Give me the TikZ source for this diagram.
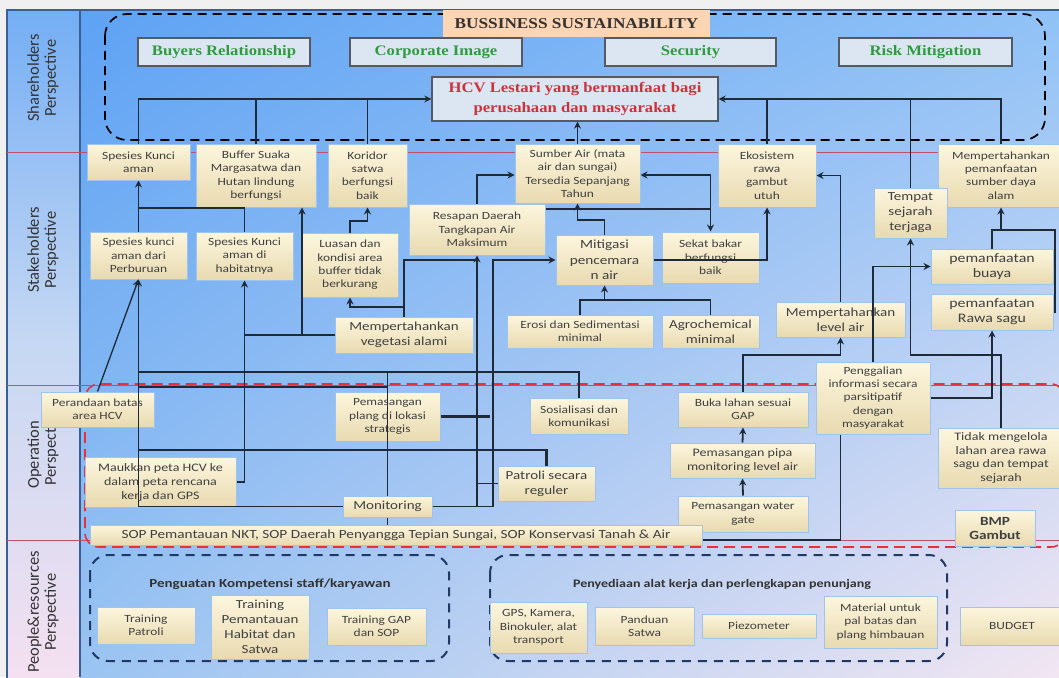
\documentclass[tikz,border=0pt]{standalone}
\usepackage{fontspec}
\setmainfont{Carlito}[FakeStretch=1.22]
\newfontfamily\lanef{Carlito}
\newfontfamily\serifb{Liberation Serif}[FakeStretch=1.15]
\usetikzlibrary{arrows.meta,calc,shadings}
\definecolor{cUL}{HTML}{5EA2F4}
\definecolor{cUR}{HTML}{90C2F6}
\definecolor{cLL}{HTML}{9AC4F2}
\definecolor{cLR}{HTML}{F2E6F2}
\definecolor{lcT}{HTML}{74AEF4}
\definecolor{lcM}{HTML}{C6D8F3}
\definecolor{lcB}{HTML}{F4E0F0}
\definecolor{frm}{HTML}{3A5F95}
\definecolor{redl}{HTML}{C0506A}
\definecolor{cr1}{HTML}{FDF6DE}
\definecolor{cr2}{HTML}{E8DAB0}
\definecolor{bbord}{HTML}{9CC4EE}
\definecolor{txt}{HTML}{404040}
\definecolor{gfill}{HTML}{DCE6F2}
\definecolor{gbord}{HTML}{555A60}
\definecolor{grn}{HTML}{2E9B3E}
\definecolor{hred}{HTML}{D0303A}
\definecolor{peach}{HTML}{FCD5B4}
\definecolor{lnc}{HTML}{1E2A38}
\definecolor{navy}{HTML}{1F3864}
\definecolor{opred}{HTML}{E8303A}
\newcommand\BX[7][sbox]{%
 \pgfmathsetmacro\bw{#5-#3}\pgfmathsetmacro\bh{#6-#4}%
 \node[#1,minimum width=\bw pt,minimum height=\bh pt] (#2) at ({(#3+#5)/2},{(#4+#6)/2}) {#7};}
\tikzset{
 sbox/.style={draw=bbord, line width=1pt, top color=cr1, bottom color=cr2, text=txt, align=center, font=\fontsize{11}{13.4}\selectfont, inner xsep=0pt, inner ysep=0pt},
 gbox/.style={draw=gbord, line width=1.3pt, fill=gfill, align=center, text=grn, font=\serifb\bfseries\fontsize{14.5}{17}\selectfont, inner xsep=1pt, inner ysep=0pt},
 hbox/.style={gbox, text=hred, font=\serifb\bfseries\fontsize{14.5}{20}\selectfont},
 con/.style={draw=lnc, line width=1.8pt},
 arr/.style={con, -{Stealth[length=7pt,width=7pt]}},
 thk/.style={con, line width=2.6pt},
 lane/.style={text=black!80, align=center, font=\lanef\fontsize{16.5}{17}\selectfont, rotate=90},
 grp/.style={text=black!80, font=\bfseries\fontsize{12.3}{14}\selectfont},
 big/.style={sbox, font=\fontsize{12.3}{15}\selectfont},
}
\begin{document}
\begin{tikzpicture}[x=1pt,y=-1pt]
\path[use as bounding box] (0,0) rectangle (1059,677);
\clip (0,0) rectangle (1059,677);
\fill[black!6] (0,0) rectangle (1059,677);
\shade[upper left=cUL, upper right=cUR, lower left=cLL, lower right=cLR] (80,10) rectangle (1059,677);
\shade[top color=lcT, bottom color=lcB, middle color=lcM] (7,10) rectangle (80,677);
\draw[frm, line width=1.5pt] (7,10) rectangle (1062,680);
\draw[frm, line width=1.5pt] (80,10) -- (80,677);
\foreach \yy in {152,385,540} \draw[redl, line width=1pt] (7,\yy) -- (1059,\yy);
% lane labels
\node[lane] (l1) at (43,78) {Shareholders\\Perspective};
\node[lane] (l2) at (43,250) {Stakeholders\\Perspective};
\node[lane] (l3) at (43,455) {Operation\\Perspecti};
\node[lane] (l4) at (43,612) {People\&resources\\Perspective};
% group frames
\draw[black, line width=1.7pt, dash pattern=on 9pt off 6pt, rounded corners=22pt] (105,14) rectangle (1045,140);
\draw[opred, line width=1.6pt, dash pattern=on 11pt off 6pt, rounded corners=14pt] (85,384) rectangle (1065,547);
\draw[navy, line width=2pt, dash pattern=on 9pt off 7pt, rounded corners=18pt] (90,555) rectangle (449,661);
\draw[navy, line width=2pt, dash pattern=on 9pt off 7pt, rounded corners=18pt] (490,555) rectangle (947,661);
% shareholders
\node[fill=peach, minimum width=267pt, minimum height=27pt, inner sep=0pt, font=\serifb\bfseries\fontsize{15}{16}\selectfont, text=black!80] (bs) at (576.5,23.5) {BUSSINESS SUSTAINABILITY};
\BX[gbox]{buy}{138}{38}{310}{66}{Buyers Relationship}
\BX[gbox]{cor}{350}{38}{522}{66}{Corporate Image}
\BX[gbox]{sec}{605}{38}{776}{66}{Security}
\BX[gbox]{ris}{839}{38}{1012}{66}{Risk Mitigation}
\BX[hbox]{hcv}{432}{77}{718}{121}{HCV Lestari yang bermanfaat bagi\\perusahaan dan masyarakat}
% stakeholders
\BX{ska}{87}{144}{190}{180}{Spesies Kunci\\aman}
\BX{buf}{196}{144}{316}{207}{Buffer Suaka\\Margasatwa dan\\Hutan lindung\\berfungsi}
\BX{kor}{328}{144}{407}{207}{Koridor\\satwa\\berfungsi\\baik}
\BX{sum}{515}{144}{640}{203}{Sumber Air (mata\\air dan sungai)\\Tersedia Sepanjang\\Tahun}
\BX{eko}{718}{144}{816}{207}{Ekosistem\\rawa\\gambut\\utuh}
\BX{mps}{938}{144}{1064}{207}{Mempertahankan\\pemanfaatan\\sumber daya\\alam}
\BX[big]{tsj}{874}{188}{947}{238}{Tempat\\sejarah\\terjaga}
\BX{res}{409}{204}{545}{255}{Resapan Daerah\\Tangkapan Air\\Maksimum}
\BX{skp}{90}{232}{187}{279}{Spesies kunci\\aman dari\\Perburuan}
\BX{skh}{196}{232}{293}{280}{Spesies Kunci\\aman di\\habitatnya}
\BX{lua}{302}{233}{398}{297}{Luasan dan\\kondisi area\\buffer tidak\\berkurang}
\BX[big,font=\fontsize{12.5}{15.5}\selectfont]{mit}{556}{235}{653}{285}{Mitigasi\\pencemara\\n air}
\BX{sek}{662}{232}{759}{283}{Sekat bakar\\berfungsi\\baik}
\BX[big,font=\fontsize{13}{15}\selectfont]{pbu}{931}{249}{1053}{284}{pemanfaatan\\buaya}
\BX[big,font=\fontsize{13}{15}\selectfont]{prs}{931}{294}{1053}{330}{pemanfaatan\\Rawa sagu}
\BX[big]{mla}{776}{302}{905}{337}{Mempertahankan\\level air}
\BX[big]{mva}{335}{317}{473}{353}{Mempertahankan\\vegetasi alami}
\BX{ero}{507}{315}{653}{348}{Erosi dan Sedimentasi\\minimal}
\BX[big]{agr}{662}{315}{759}{348}{Agrochemical\\minimal}
% operation
\BX{pba}{41}{392}{154}{427}{Perandaan batas\\area HCV}
\BX{ppl}{335}{392}{440}{441}{Pemasangan\\plang di lokasi\\strategis}
\BX{sos}{530}{398}{628}{434}{Sosialisasi dan\\komunikasi}
\BX{bls}{678}{392}{808}{427}{Buka lahan sesuai\\GAP}
\BX{pgi}{816}{362}{930}{434}{Penggalian\\informasi secara\\parsitipatif\\dengan\\masyarakat}
\BX[big,font=\fontsize{11.5}{14}\selectfont]{mpk}{85}{457}{236}{507}{Maukkan peta HCV ke\\dalam peta rencana\\kerja dan GPS}
\BX[big]{pat}{498}{466}{595}{501}{Patroli secara\\reguler}
\BX[big,font=\fontsize{11.5}{14}\selectfont]{ppi}{670}{443}{815}{478}{Pemasangan pipa\\monitoring level air}
\BX[big]{mon}{343}{496}{432}{517}{Monitoring}
\BX{pwg}{678}{496}{808}{532}{Pemasangan water\\gate}
\BX[big,font=\fontsize{11.5}{13.5}\selectfont]{tml}{938}{428}{1064}{488}{Tidak mengelola\\lahan area rawa\\sagu dan tempat\\sejarah}
\BX[big,font=\bfseries\fontsize{12.5}{14}\selectfont]{bmp}{955}{510}{1035}{546}{BMP\\Gambut}
\BX[big,font=\fontsize{12.5}{14}\selectfont]{sop}{90}{525}{702}{545}{SOP Pemantauan NKT, SOP Daerah Penyangga Tepian Sungai, SOP Konservasi Tanah \& Air}
% people
\node[grp] (ga) at (270,584) {Penguatan Kompetensi staff/karyawan};
\node[grp, font=\bfseries\fontsize{11.5}{14}\selectfont] (gb) at (722,584) {Penyediaan alat kerja dan perlengkapan penunjang};
\BX{tpa}{97}{607}{195}{644}{Training\\Patroli}
\BX[big]{tph}{211}{595}{309}{659}{Training\\Pemantauan\\Habitat dan\\Satwa}
\BX{tgs}{327}{608}{426}{645}{Training GAP\\dan SOP}
\BX{gps}{490}{602}{587}{653}{GPS, Kamera,\\Binokuler, alat\\transport}
\BX{pds}{595}{607}{694}{645}{Panduan\\Satwa}
\BX{pzm}{702}{614}{816}{638}{Piezometer}
\BX{mat}{824}{596}{937}{648}{Material untuk\\pal batas dan\\plang himbauan}
\BX{bud}{960}{607}{1064}{645}{BUDGET}
% ---- connectors: shareholders
\draw[arr] (ska.north) |- (hcv.west);
\draw[con] (buf.north) -- (buf.north |- hcv.west);
\draw[con] (kor.north) -- (kor.north |- hcv.west);
\draw[arr] (mps.north) |- (hcv.east);
\draw[con] (eko.north) -- (eko.north |- hcv.east);
\draw[con] (tsj.north) -- (tsj.north |- hcv.east);
\draw[arr] (sum.north) -- (sum.north |- hcv.south);
% stakeholders
\draw[arr] (skp.north) -- (ska.south);
\draw[con] (skh.north) -- (skh.north |- 0,208) -- (ska.south |- 0,208);
\draw[arr] (lua.north) -- (lua.north |- 0,221) -| (kor.south);
\draw[arr] (res.north) |- (sum.west |- 0,175);
\draw[arr] (mit.north) |- (sum.south |- 0,220) -- (sum.south);
\draw[arr] (res.east |- 0,209) -| (sek.north);
\draw[arr] (sek.north |- 0,209) -- (sek.north |- 0,175) -- (sum.east |- 0,175);
\draw[arr] (mit.east) -| (eko.south);
\draw[arr] (mla.north) |- (eko.east);
\draw[arr] (ero.north) |- (mit.south |- 0,300) -- (mit.south);
\draw[con] (agr.north) |- (mit.south |- 0,300);
\draw[arr] (mva.north) -- (mva.north |- 0,307) -| (lua.south);
\draw[con] (mva.north) -- (mva.north |- mit.west) -- (res.south |- mit.west);
\draw[arr] (mva.west) -| (buf.south -| 302,0);
\draw[con] (mva.west) -- (skh.south |- mva.west);
\draw[arr] (mpk.east) -| (skh.south);
\draw[arr, line width=1.3pt] (pba.north) -- (skp.south);
\draw[arr] (mon.west) -- (skp.south |- mon.west) -- (skp.south);
\draw[thk] (skp.south |- 0,372) -| (sos.north);
\draw[thk] (skp.south |- 0,387) -- (mon.north |- 0,387);
\draw[con] (mon.north |- 0,372) -- (mon.north);
\draw[con] (mon.south) -- (mon.south |- sop.north);
\draw[thk] (skp.south |- 0,450) -| (pat.north);
\draw[arr] (mon.east) -| (res.south);
\draw[con] (pat.west) -- (res.south |- pat.west);
\draw[arr] (mon.east) -- (mon.east -| 493,0) |- (mit.west);
\draw[thk] (ppl.east) -- (ppl.east -| 490,0);
% right side
\draw[arr] (bls.north) |- (mla.south |- 0,355) -- (mla.south);
\draw[arr] (pwg.north) -- (ppi.south);
\draw[arr] (ppi.north) -- (bls.south);
\draw[con] (sop.east |- 0,540) -| (mla.south |- pgi.south);
\draw[arr] (pgi.north) |- (pbu.west);
\draw[arr] (pgi.east |- 0,398) -| (prs.south);
\draw[arr] (tml.north) |- (tsj.south |- 0,355) -- (tsj.south);
\draw[arr] (pbu.north) |- (mps.south |- 0,230) -- (mps.south);
\draw[con] (mps.south |- 0,230) -- (1055,230) |- (prs.east);
\end{tikzpicture}
\end{document}
